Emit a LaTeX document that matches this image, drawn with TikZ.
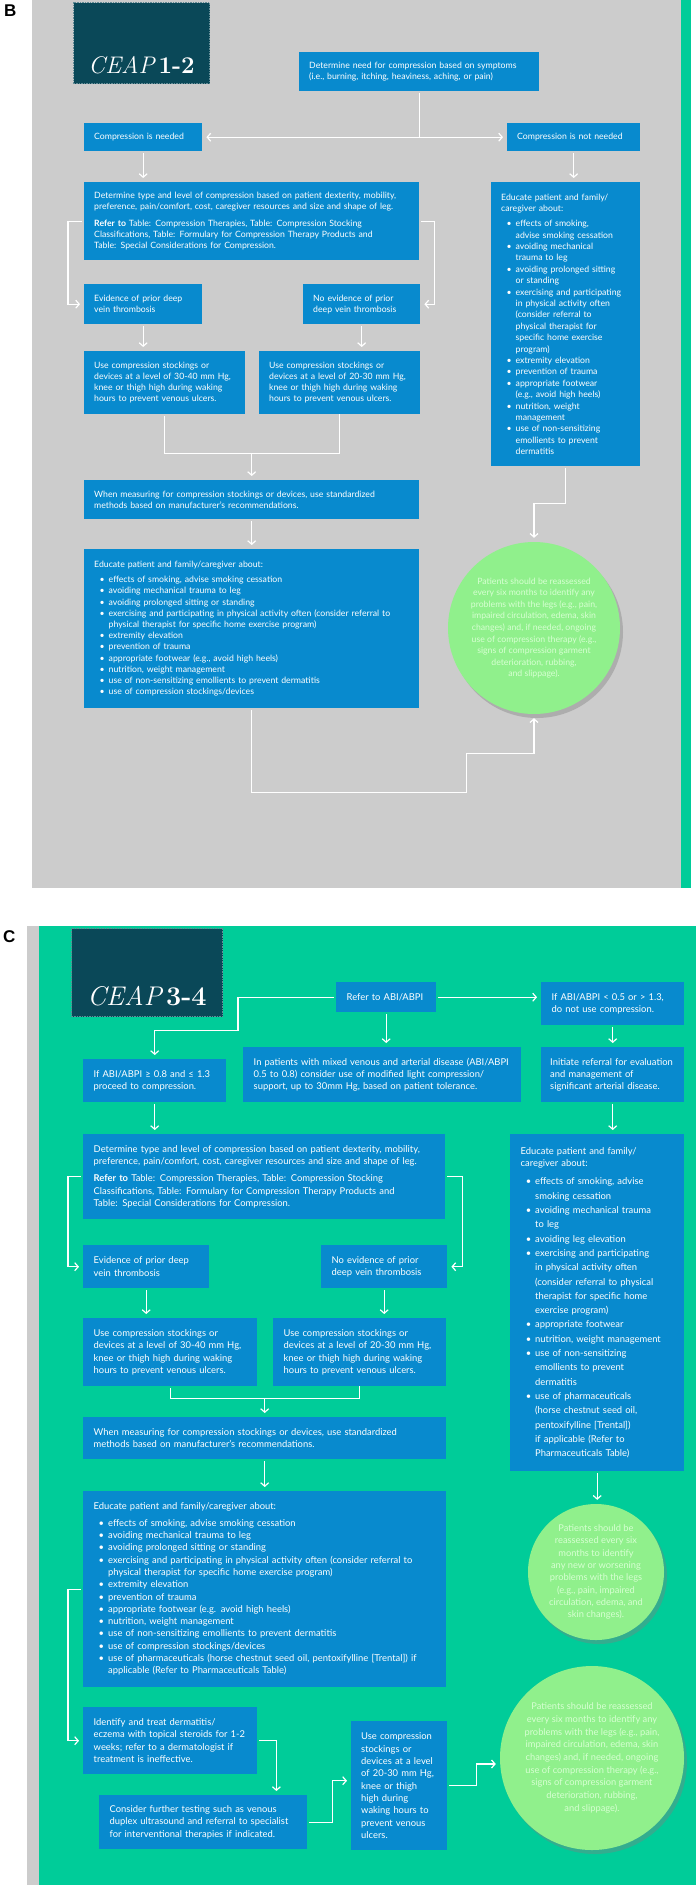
\documentclass[tikz,border=0pt]{standalone}
\usepackage{fontspec}
\usepackage{tikz}
\usetikzlibrary{arrows.meta, calc, positioning, shadows}
\newfontfamily\boxfont{Lato}
\newfontfamily\panelfont{Liberation Sans}
\definecolor{panelgray}{RGB}{204,204,204}
\definecolor{panelgreen}{RGB}{0,204,153}
\definecolor{boxblue}{RGB}{8,138,206}
\definecolor{titleteal}{RGB}{10,72,88}
\definecolor{titleedge}{RGB}{100,140,150}
\definecolor{reassessgreen}{RGB}{144,240,140}
\definecolor{reassesstext}{RGB}{215,255,210}
\hyphenpenalty=10000
\exhyphenpenalty=10000
\newenvironment{bullets}{\begin{list}{\textbullet}{\setlength{\leftmargin}{14.5pt}\setlength{\labelsep}{4pt}\setlength{\labelwidth}{10pt}\setlength{\itemsep}{0pt}\setlength{\parsep}{0pt}\setlength{\topsep}{4pt}\setlength{\partopsep}{0pt}}}{\end{list}}
\tikzstyle{infoB} = [rectangle, anchor=north west, fill=boxblue, text=white, align=left, inner xsep=10pt, inner ysep=0pt, font={\boxfont\fontsize{8.7}{11.2}\selectfont}]
\tikzstyle{infoC} = [infoB, inner xsep=10.5pt, font={\boxfont\fontsize{9.4}{12.3}\selectfont}]
\tikzstyle{reassess} = [circle, fill=reassessgreen, text=reassesstext, align=center, inner sep=-6pt, drop shadow={shadow xshift=3pt, shadow yshift=-4pt, opacity=0.4}]
\tikzstyle{titlebox} = [rectangle, anchor=north west, fill=titleteal, draw=titleedge, dash pattern=on 1.5pt off 1pt, line width=1pt]
\tikzstyle{ceap} = [text=white, anchor=base, inner sep=0pt]
\tikzstyle{panellabel} = [anchor=north west, inner sep=0pt, font={\panelfont\bfseries\fontsize{17}{17}\selectfont}]
\tikzstyle{link} = [white, line width=1.2pt, shorten <=2pt]
\tikzstyle{arrow} = [link, -{Straight Barb[length=3.5pt, width=8pt]}, shorten >=4pt]

\begin{document}
\begin{tikzpicture}[x=1pt, y=-1pt]
    \useasboundingbox (0,0) rectangle (696,1891);

    % panel B: CEAP 1-2
    \fill [panelgray] (32,0) rectangle (681,888);
    \fill [panelgreen] (681,0) rectangle (691,888);
    \node (labB) [panellabel] at (4,5) {B};
    \node (titleB) [titlebox, minimum width=136pt, minimum height=81pt] at (73,2) {};
    \node (ceapB) [ceap] at ($(titleB.south)+(0,-11)$) {\fontsize{24}{24}\selectfont\itshape CEAP\,\upshape\bfseries 1-2};

    \node (symptomsB) [infoB, text width=220pt, minimum height=39pt] at (299,52) {Determine need for compression based on symptoms\\(i.e., burning, itching, heaviness, aching, or pain)};
    \node (yesB) [infoB, text width=98pt, minimum height=28pt] at (84,123) {Compression is needed};
    \node (noB) [infoB, text width=113pt, minimum height=28pt] at (507,123) {Compression is not needed};
    \node (typeB) [infoB, text width=315pt, minimum height=78pt] at (84,182) {Determine type and level of compression based on patient dexterity, mobility,\\preference, pain/comfort, cost, caregiver resources and size and shape of leg.\\[5pt]\textbf{Refer to} Table: Compression Therapies, Table: Compression Stocking\\Classifications, Table: Formulary for Compression Therapy Products and\\Table: Special Considerations for Compression.};
    \node (dvtB) [infoB, text width=98pt, minimum height=40pt] at (84,284) {Evidence of prior deep\\vein thrombosis};
    \node (nodvtB) [infoB, text width=97pt, minimum height=40pt] at (303,284) {No evidence of prior\\deep vein thrombosis};
    \node (highB) [infoB, text width=141pt, minimum height=63pt] at (84,351) {Use compression stockings or\\devices at a level of 30-40 mm Hg,\\knee or thigh high during waking\\hours to prevent venous ulcers.};
    \node (lowB) [infoB, text width=141pt, minimum height=63pt] at (259,351) {Use compression stockings or\\devices at a level of 20-30 mm Hg,\\knee or thigh high during waking\\hours to prevent venous ulcers.};
    \node (measureB) [infoB, text width=315pt, minimum height=39pt] at (84,480) {When measuring for compression stockings or devices, use standardized\\methods based on manufacturer’s recommendations.};
    \node (eduB) [infoB, text width=315pt, minimum height=159pt] at (84,549) {Educate patient and family/caregiver about:
        \begin{bullets}
        \item effects of smoking, advise smoking cessation
        \item avoiding mechanical trauma to leg
        \item avoiding prolonged sitting or standing
        \item exercising and participating in physical activity often (consider referral to\\physical therapist for specific home exercise program)
        \item extremity elevation
        \item prevention of trauma
        \item appropriate footwear (e.g., avoid high heels)
        \item nutrition, weight management
        \item use of non-sensitizing emollients to prevent dermatitis
        \item use of compression stockings/devices
        \end{bullets}};
    \node (eduNoB) [infoB, text width=129pt, minimum height=284pt] at (491,182) {Educate patient and family/\\caregiver about:\par\fontsize{8.7}{11.4}\selectfont
        \begin{bullets}
        \item effects of smoking,\\advise smoking cessation
        \item avoiding mechanical\\trauma to leg
        \item avoiding prolonged sitting\\or standing
        \item exercising and participating\\in physical activity often\\(consider referral to\\physical therapist for\\specific home exercise\\program)
        \item extremity elevation
        \item prevention of trauma
        \item appropriate footwear\\(e.g., avoid high heels)
        \item nutrition, weight\\management
        \item use of non-sensitizing\\emollients to prevent\\dermatitis
        \end{bullets}};
    \node (reB) [reassess, minimum size=172pt, font={\boxfont\fontsize{8.7}{11.6}\selectfont}] at (534,628) {Patients should be reassessed\\every six months to identify any\\problems with the legs (e.g., pain,\\impaired circulation, edema, skin\\changes) and, if needed, ongoing\\use of compression therapy (e.g.,\\signs of compression garment\\deterioration, rubbing,\\and slippage).};

    \draw [arrow] (symptomsB.south) |- (yesB.east);
    \draw [arrow] (symptomsB.south) |- (noB.west);
    \draw [arrow] (yesB.south) -- (yesB.south |- typeB.north);
    \draw [arrow] (noB.south) -- (noB.south |- eduNoB.north);
    \draw [arrow] (typeB.west) -- ++(-16,0) |- (dvtB.west);
    \draw [arrow] (typeB.east) -- ++(15,0) |- (nodvtB.east);
    \draw [arrow] (dvtB.south) -- (dvtB.south |- highB.north);
    \draw [arrow] (nodvtB.south) -- (nodvtB.south |- lowB.north);
    \draw [link] (highB.south) -- ++(0,39) coordinate (mergeB) -| (lowB.south);
    \draw [arrow, shorten <=0pt] (mergeB -| measureB.north) -- (measureB.north);
    \draw [arrow] (measureB.south) -- (eduB.north);
    \draw [arrow] (eduB.south) -- ++(0,84) -| ++(215,-39) -| (reB.south);
    \draw [arrow] (eduNoB.south) -- ++(0,37) -| (reB.north);

    % panel C: CEAP 3-4
    \fill [panelgray] (27,926) rectangle (39,1885);
    \fill [panelgreen] (39,926) rectangle (696,1885);
    \node (labC) [panellabel] at (3,930) {C};
    \node (titleC) [titlebox, minimum width=151pt, minimum height=88pt] at (71,928) {};
    \node (ceapC) [ceap] at ($(titleC.south)+(0,-12)$) {\fontsize{27}{27}\selectfont\itshape CEAP\,\upshape\bfseries 3-4};

    \node (abiC) [infoC, text width=79pt, minimum height=30pt] at (336,982) {Refer to ABI/ABPI};
    \node (okC) [infoC, text width=122pt, minimum height=43pt] at (83,1059) {If ABI/ABPI ≥ 0.8 and ≤ 1.3\\proceed to compression.};
    \node (mixedC) [infoC, text width=257pt, minimum height=55pt] at (243,1047) {In patients with mixed venous and arterial disease (ABI/ABPI\\0.5 to 0.8) consider use of modified light compression/\\support, up to 30mm Hg, based on patient tolerance.};
    \node (stopC) [infoC, text width=122pt, minimum height=43pt] at (541,982) {If ABI/ABPI < 0.5 or > 1.3,\\do not use compression.};
    \node (referralC) [infoC, inner xsep=9pt, text width=125pt, minimum height=55pt] at (541,1047) {Initiate referral for evaluation\\and management of\\significant arterial disease.};
    \node (eduArtC) [infoC, text width=153pt, minimum height=337pt] at (510,1134) {Educate patient and family/\\caregiver about:\par\fontsize{9.4}{14.3}\selectfont
        \begin{bullets}
        \item effects of smoking, advise\\smoking cessation
        \item avoiding mechanical trauma\\to leg
        \item avoiding leg elevation
        \item exercising and participating\\in physical activity often\\(consider referral to physical\\therapist for specific home\\exercise program)
        \item appropriate footwear
        \item nutrition, weight management
        \item use of non-sensitizing\\emollients to prevent\\dermatitis
        \item use of pharmaceuticals\\(horse chestnut seed oil,\\pentoxifylline [Trental])\\if applicable (Refer to\\Pharmaceuticals Table)
        \end{bullets}};
    \node (reC1) [reassess, minimum size=136pt, font={\boxfont\fontsize{9.3}{12.3}\selectfont}] at (596,1572) {Patients should be\\reassessed every six\\months to identify\\any new or worsening\\problems with the legs\\(e.g., pain, impaired\\circulation, edema, and\\skin changes).};
    \node (typeC) [infoC, text width=341pt, minimum height=85pt] at (83,1134) {Determine type and level of compression based on patient dexterity, mobility,\\preference, pain/comfort, cost, caregiver resources and size and shape of leg.\\[5pt]\textbf{Refer to} Table: Compression Therapies, Table: Compression Stocking\\Classifications, Table: Formulary for Compression Therapy Products and\\Table: Special Considerations for Compression.};
    \node (dvtC) [infoC, text width=105pt, minimum height=43pt] at (83,1245) {Evidence of prior deep\\vein thrombosis};
    \node (nodvtC) [infoC, text width=105pt, minimum height=43pt] at (321,1245) {No evidence of prior\\deep vein thrombosis};
    \node (highC) [infoC, text width=153pt, minimum height=68pt] at (83,1318) {Use compression stockings or\\devices at a level of 30-40 mm Hg,\\knee or thigh high during waking\\hours to prevent venous ulcers.};
    \node (lowC) [infoC, text width=152pt, minimum height=68pt] at (273,1318) {Use compression stockings or\\devices at a level of 20-30 mm Hg,\\knee or thigh high during waking\\hours to prevent venous ulcers.};
    \node (measureC) [infoC, text width=342pt, minimum height=42pt] at (83,1417) {When measuring for compression stockings or devices, use standardized\\methods based on manufacturer’s recommendations.};
    \node (eduC) [infoC, text width=342pt, minimum height=196pt] at (83,1491) {Educate patient and family/caregiver about:
        \begin{bullets}
        \item effects of smoking, advise smoking cessation
        \item avoiding mechanical trauma to leg
        \item avoiding prolonged sitting or standing
        \item exercising and participating in physical activity often (consider referral to\\physical therapist for specific home exercise program)
        \item extremity elevation
        \item prevention of trauma
        \item appropriate footwear (e.g. avoid high heels)
        \item nutrition, weight management
        \item use of non-sensitizing emollients to prevent dermatitis
        \item use of compression stockings/devices
        \item use of pharmaceuticals (horse chestnut seed oil, pentoxifylline [Trental]) if\\applicable (Refer to Pharmaceuticals Table)
        \end{bullets}};
    \node (eczemaC) [infoC, text width=153pt, minimum height=67pt] at (83,1707) {Identify and treat dermatitis/\\eczema with topical steroids for 1-2\\weeks; refer to a dermatologist if\\treatment is ineffective.};
    \node (testC) [infoC, text width=187pt, minimum height=54pt] at (99,1795) {Consider further testing such as venous\\duplex ultrasound and referral to specialist\\for interventional therapies if indicated.};
    \node (stockC) [infoC, inner xsep=10pt, text width=76pt, minimum height=129pt] at (351,1721) {Use compression\\stockings or\\devices at a level\\of 20-30 mm Hg,\\knee or thigh\\high during\\waking hours to\\prevent venous\\ulcers.};
    \node (reC2) [reassess, minimum size=184pt, font={\boxfont\fontsize{9.3}{12.7}\selectfont}] at (592,1758) {Patients should be reassessed\\every six months to identify any\\problems with the legs (e.g., pain,\\impaired circulation, edema, skin\\changes) and, if needed, ongoing\\use of compression therapy (e.g.,\\signs of compression garment\\deterioration, rubbing,\\and slippage).};

    \draw [arrow] (abiC.west) -| ++(-98,33) -| (okC.north);
    \draw [arrow] (abiC.south) -- (abiC.south |- mixedC.north);
    \draw [arrow] (abiC.east) -- (abiC.east -| stopC.west);
    \draw [arrow] (stopC.south) -- (referralC.north);
    \draw [arrow] (referralC.south) -- (referralC.south |- eduArtC.north);
    \draw [arrow] (eduArtC.south) -- (eduArtC.south |- reC1.north);
    \draw [arrow] (okC.south) -- (okC.south |- typeC.north);
    \draw [arrow] (typeC.west) -- ++(-15,0) |- (dvtC.west);
    \draw [arrow] (typeC.east) -- ++(17,0) |- (nodvtC.east);
    \draw [arrow] (dvtC.south) -- (dvtC.south |- highC.north);
    \draw [arrow] (nodvtC.south) -- (nodvtC.south |- lowC.north);
    \draw [link] (highC.south) -- ++(0,12) coordinate (mergeC) -| (lowC.south);
    \draw [arrow, shorten <=0pt] (mergeC -| measureC.north) -- (measureC.north);
    \draw [arrow] (measureC.south) -- (eduC.north);
    \draw [arrow] (eduC.west) -- ++(-15,0) |- (eczemaC.west);
    \draw [arrow] (eczemaC.east) -| ([xshift=-31pt]testC.north east);
    \draw [arrow] (testC.east) -- ++(25,0) |- ([yshift=5pt]stockC.west);
    \draw [arrow] (stockC.east) -- ++(29,0) |- ([yshift=-6pt]reC2.west);
\end{tikzpicture}
\end{document}
